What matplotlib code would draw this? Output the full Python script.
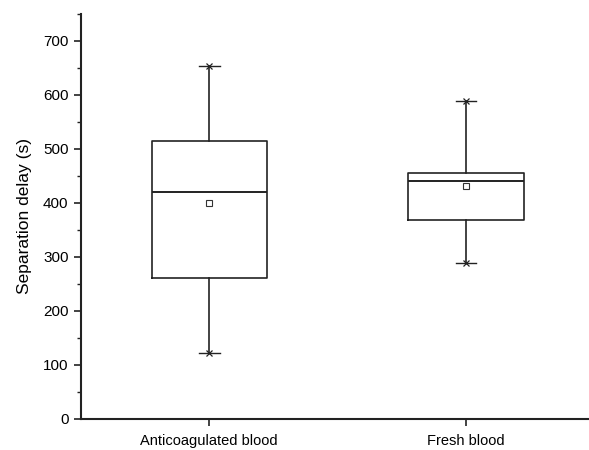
import matplotlib
matplotlib.use("Agg")
import matplotlib.pyplot as plt
from matplotlib.ticker import MultipleLocator

plt.rcParams["font.family"] = ["Liberation Sans", "DejaVu Sans"]

groups = ["Anticoagulated blood", "Fresh blood"]
whisker_low = [122, 289]
q1 = [262, 368]
medians = [420, 440]
q3 = [514, 456]
whisker_high = [653, 588]
means = [400, 431]

stats = []
for i, g in enumerate(groups):
    stats.append({"label": g, "whislo": whisker_low[i], "q1": q1[i], "med": medians[i],
                  "q3": q3[i], "whishi": whisker_high[i], "mean": means[i], "fliers": []})

fig = plt.figure(figsize=(5.89, 4.5), dpi=100)
ax = fig.add_axes([81 / 589, 31 / 450, 508 / 589, 405 / 450])

lc = "#222222"
pos = [1, 2]
ax.bxp(stats, positions=pos, widths=0.45, showmeans=True, showcaps=True,
       boxprops=dict(color=lc, linewidth=1.2),
       medianprops=dict(color=lc, linewidth=1.4),
       whiskerprops=dict(color=lc, linewidth=1.2),
       capprops=dict(color=lc, linewidth=1.0),
       capwidths=0.08,
       meanprops=dict(marker="s", markerfacecolor="white", markeredgecolor="#333333",
                      markersize=4, markeredgewidth=0.8))
# origin style cross markers at whisker ends
ax.plot(pos, whisker_high, linestyle="none", marker="x", color=lc, markersize=5, markeredgewidth=0.9)
ax.plot(pos, whisker_low, linestyle="none", marker="x", color=lc, markersize=5, markeredgewidth=0.9)

ax.set_xlim(0.5, 2.48)
ax.set_ylim(0, 750)
ax.yaxis.set_major_locator(MultipleLocator(100))
ax.yaxis.set_minor_locator(MultipleLocator(50))
ax.set_xticks(pos)
ax.set_xticklabels(groups, fontsize=10.5)
ax.tick_params(axis="y", labelsize=11, length=5, width=1.2, color=lc, pad=4)
ax.tick_params(axis="y", which="minor", length=3, width=1.0, color=lc)
ax.tick_params(axis="x", length=5, width=1.2, color=lc, pad=6)
ax.set_ylabel("Separation delay (s)", fontsize=12.5, labelpad=8)

ax.spines["top"].set_visible(False)
ax.spines["right"].set_visible(False)
ax.spines["left"].set_linewidth(1.5)
ax.spines["bottom"].set_linewidth(1.5)
ax.spines["left"].set_color(lc)
ax.spines["bottom"].set_color(lc)

fig.savefig("out.png", dpi=100)
